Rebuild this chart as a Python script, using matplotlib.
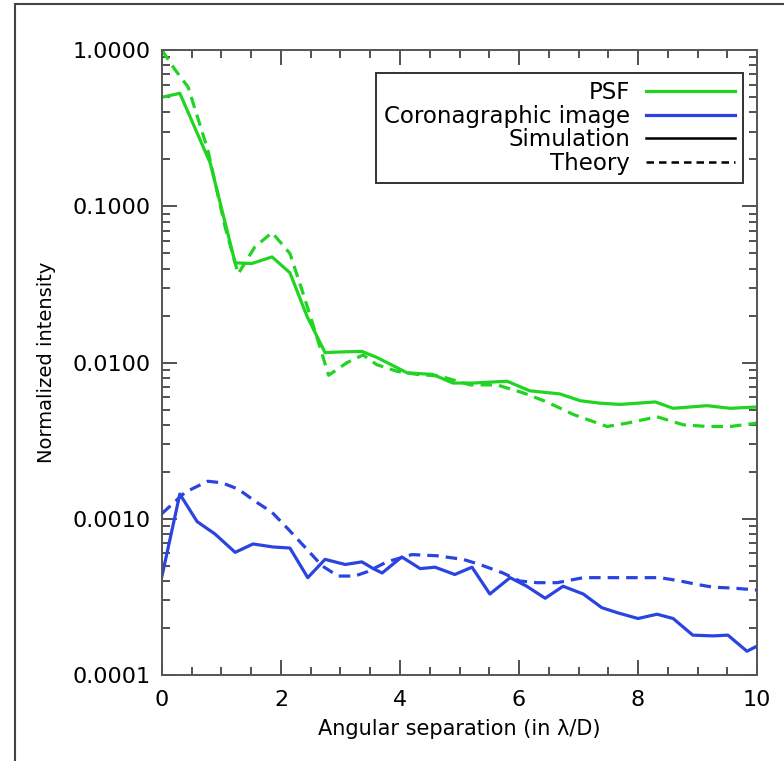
import numpy as np
import matplotlib
matplotlib.use("Agg")
import matplotlib.pyplot as plt
from matplotlib.lines import Line2D
from matplotlib.patches import Rectangle
from matplotlib.ticker import LogLocator, FixedLocator, NullFormatter

# PSF, simulation
psf_sim_x = [0.0, 0.30, 0.81, 1.23, 1.51, 1.85, 2.15, 2.44, 2.74, 3.00, 3.36, 3.61,
             4.12, 4.55, 4.89, 5.23, 5.80, 6.18, 6.52, 6.69, 7.03, 7.36, 7.70,
             8.29, 8.59, 9.16, 9.55, 10.0]
psf_sim_y = [0.50, 0.53, 0.19, 0.0435, 0.0431, 0.0475, 0.0376, 0.0197, 0.0116, 0.0117,
             0.0118, 0.0108, 0.0086, 0.0084, 0.0074, 0.0074, 0.0076, 0.0066, 0.0064,
             0.0063, 0.0057, 0.0055, 0.0054, 0.0056, 0.0051, 0.0053, 0.0051, 0.0052]

# PSF, theory
psf_th_x = [0.0, 0.22, 0.44, 0.77, 1.06, 1.28, 1.56, 1.85, 2.15, 2.35, 2.60, 2.80,
            3.11, 3.38, 3.61, 3.95, 4.29, 4.67, 5.18, 5.63, 6.07, 6.47, 6.91,
            7.48, 7.82, 8.32, 8.76, 9.16, 9.55, 10.0]
psf_th_y = [1.0, 0.75, 0.58, 0.23, 0.074, 0.037, 0.055, 0.068, 0.050, 0.0294, 0.0147,
            0.0083, 0.0100, 0.0112, 0.0097, 0.0088, 0.0084, 0.0082, 0.0072, 0.0072,
            0.0064, 0.0056, 0.00466, 0.0039, 0.0041, 0.0045, 0.0040, 0.0039, 0.0039,
            0.0041]

# Coronagraphic image, simulation
cor_sim_x = [0.0, 0.30, 0.59, 0.89, 1.23, 1.53, 1.87, 2.15, 2.45, 2.74, 3.08, 3.36,
             3.55, 3.70, 4.03, 4.34, 4.59, 4.92, 5.21, 5.51, 5.85, 6.13, 6.44,
             6.74, 7.08, 7.39, 7.66, 8.00, 8.32, 8.59, 8.92, 9.26, 9.51, 9.83, 10.0]
cor_sim_y = [0.00043, 0.00144, 0.00096, 0.00080, 0.00061, 0.00069, 0.00066, 0.00065,
             0.00042, 0.00055, 0.00051, 0.00053, 0.00048, 0.00045, 0.00057, 0.00048,
             0.00049, 0.00044, 0.00049, 0.00033, 0.00042, 0.00037, 0.00031, 0.00037,
             0.00033, 0.00027, 0.00025, 0.00023, 0.000245, 0.00023, 0.00018, 0.000178,
             0.00018, 0.000142, 0.000153]

# Coronagraphic image, theory
cor_th_x = [0.0, 0.39, 0.77, 1.01, 1.28, 1.56, 1.85, 2.12, 2.40, 2.69, 2.96, 3.24,
            3.46, 3.78, 4.20, 4.62, 5.06, 5.34, 5.73, 6.01, 6.30, 6.64, 7.08,
            7.48, 7.87, 8.37, 8.71, 8.99, 9.26, 9.60, 10.0]
cor_th_y = [0.00108, 0.00148, 0.00174, 0.00170, 0.00155, 0.00130, 0.00110, 0.00086,
            0.00066, 0.00050, 0.00043, 0.00043, 0.00046, 0.00053, 0.00059, 0.00058,
            0.00055, 0.00051, 0.00045, 0.00040, 0.00039, 0.00039, 0.00042, 0.00042,
            0.00042, 0.00042, 0.00040, 0.00038, 0.000365, 0.00036, 0.00035]

x_major = [0, 2, 4, 6, 8, 10]
y_major = [1e-4, 1e-3, 1e-2, 1e-1, 1.0]

GREEN = "#22d422"
BLUE = "#2a44e0"
LW = 2.3
DASH = (0, (3.6, 2.2))

plt.rcParams.update({"font.family": "DejaVu Sans", "font.size": 14})

fig = plt.figure(figsize=(7.84, 7.61), dpi=100)
ax = fig.add_axes([0.2066, 0.113, 0.7590, 0.821])

ax.plot(psf_sim_x, psf_sim_y, color=GREEN, lw=LW)
ax.plot(psf_th_x, psf_th_y, color=GREEN, lw=LW, linestyle=DASH)
ax.plot(cor_sim_x, cor_sim_y, color=BLUE, lw=LW)
ax.plot(cor_th_x, cor_th_y, color=BLUE, lw=LW, linestyle=DASH)

ax.set_yscale("log")
ax.set_xlim(0, 10)
ax.set_ylim(1e-4, 1.0)
ax.xaxis.set_major_locator(FixedLocator(x_major))
ax.xaxis.set_minor_locator(FixedLocator(np.arange(0, 10.01, 0.5)))
ax.set_xticklabels([str(v) for v in x_major])
ax.yaxis.set_major_locator(FixedLocator(y_major))
ax.yaxis.set_minor_locator(LogLocator(base=10, subs=np.arange(2, 10)))
ax.yaxis.set_minor_formatter(NullFormatter())
ax.set_yticklabels(["%.4f" % v for v in y_major])

ax.tick_params(which="both", direction="in", top=True, right=True, color="#333333", width=1.2)
ax.tick_params(which="major", length=11, labelsize=16, pad=8)
ax.tick_params(axis="x", which="major", pad=11)
ax.tick_params(which="minor", length=6)
for s in ax.spines.values():
    s.set_linewidth(1.4)
    s.set_color("#555555")

ax.set_xlabel("Angular separation (in λ/D)", fontsize=15, labelpad=6)
ax.set_ylabel("Normalized intensity", fontsize=14, labelpad=12)

handles = [Line2D([], [], color=GREEN, lw=LW),
           Line2D([], [], color=BLUE, lw=LW),
           Line2D([], [], color="black", lw=1.8),
           Line2D([], [], color="black", lw=1.8, linestyle=(0, (3, 2)))]
labels = ["PSF", "Coronagraphic image", "Simulation", "Theory"]
leg = ax.legend(handles, labels, loc="upper right", bbox_to_anchor=(0.977, 0.963),
                borderaxespad=0, markerfirst=False, fancybox=False, framealpha=1,
                edgecolor="#333333", fontsize=16.5, handlelength=3.9, labelspacing=0.02,
                borderpad=0.35, handletextpad=0.7)
leg.get_frame().set_linewidth(1.4)

# outer frame of the original screenshot
fig.patches.append(Rectangle((15 / 784, -0.05), 1.1, 1 - 4 / 761 + 0.05,
                             transform=fig.transFigure, fill=False,
                             edgecolor="#444444", lw=1.5))

fig.savefig("out.png", dpi=100)
